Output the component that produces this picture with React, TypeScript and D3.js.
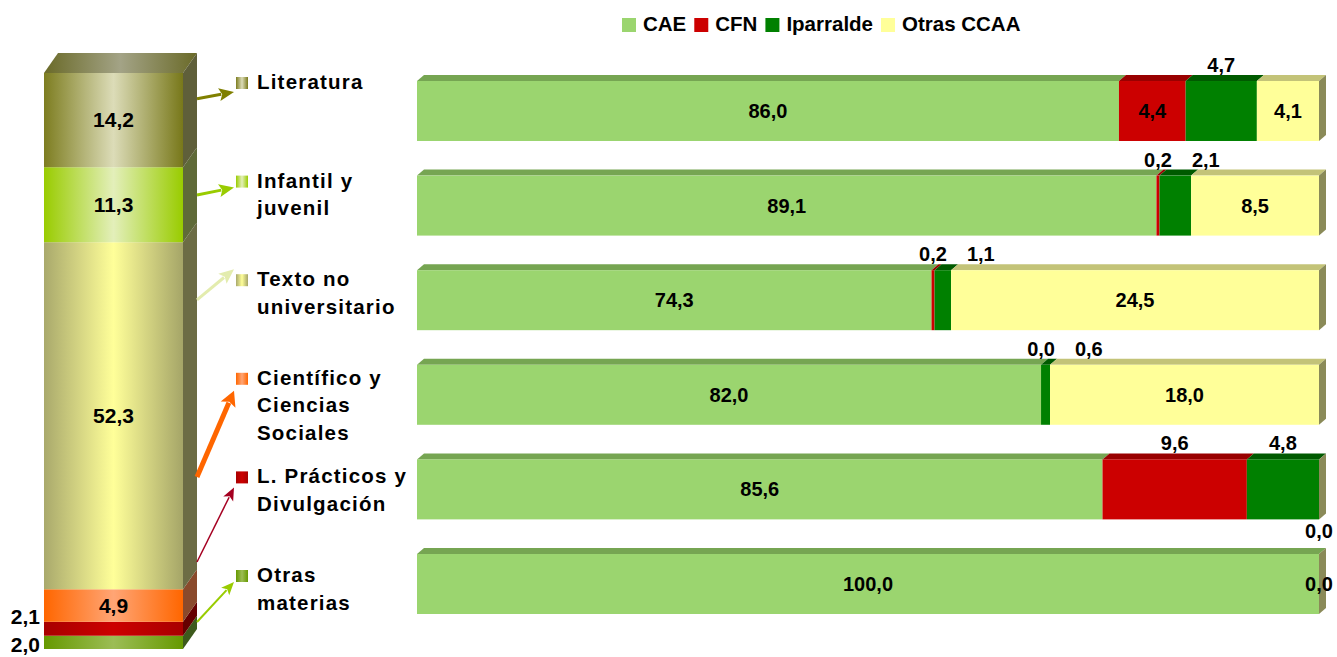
import React from "react";
import * as d3 from "d3";

// ---------- DATA ----------
const seriesNames = ["CAE", "CFN", "Iparralde", "Otras CCAA"];
const categories = [
  "Literatura",
  "Infantil y juvenil",
  "Texto no universitario",
  "Científico y Ciencias Sociales",
  "L. Prácticos y Divulgación",
  "Otras materias",
];
const categoryLines = [
  ["Literatura"],
  ["Infantil y", "juvenil"],
  ["Texto no", "universitario"],
  ["Científico y", "Ciencias", "Sociales"],
  ["L. Prácticos y", "Divulgación"],
  ["Otras", "materias"],
];
// share of each subject (left column)
const shareValues = [14.2, 11.3, 52.3, 4.9, 2.1, 2.0];
// origin distribution per subject (right bars)
const caeValues = [86.0, 89.1, 74.3, 82.0, 85.6, 100.0];
const cfnValues = [4.4, 0.2, 0.2, 0.0, 9.6, 0.0];
const iparraldeValues = [4.7, 2.1, 1.1, 0.6, 4.8, 0.0];
const otrasValues = [4.1, 8.5, 24.5, 18.0, 0.0, 0.0];
const axisMin = 40; // horizontal axis starts at 40 %

// ---------- STYLE / LAYOUT ----------
const seriesFront = ["#9bd56f", "#cc0000", "#008000", "#ffff99"];
const seriesTop = ["#76a552", "#990000", "#005a00", "#c3c378"];
const seriesSide = ["#6f9a4c", "#880000", "#004a00", "#8a8a58"];
// label placement for each subject x series
const labelPlacement = [
  ["in", "in", "above", "in"],
  ["in", "above", "above", "in"],
  ["in", "above", "above", "in"],
  ["in", "above", "above", "in"],
  ["in", "above", "above", "below"],
  ["in", "none", "none", "end"],
];
const catGrad = [
  ["#7d7d20", "#dcdcb8", "#78781a"],
  ["#99cc00", "#e3efba", "#99cc00"],
  ["#a9a96c", "#ffff99", "#a5a568"],
  ["#ff6600", "#ffa575", "#ff6600"],
  ["#a80000", "#cc0000", "#a80000"],
  ["#669900", "#9cbd55", "#669900"],
];
const catSide = ["#5f5f3a", "#5f6a38", "#6c6c45", "#8a4a2c", "#650000", "#3d5a1c"];
const arrowColor = ["#808000", "#99cc00", "#e3ecae", "#ff6600", "#a50021", "#99cc00"];
const arrowWidth = [3, 3, 3, 5, 1.5, 2];
const arrowAnchor = [79.9, 65.4, 49.6, 22.9, 10.1, 1.05]; // column units where arrows leave
const arrowTipOffset = [3, 0, -17, 6, 4, 0];

const FONT = "'Liberation Sans', Arial, Helvetica, sans-serif";
let ctx: CanvasRenderingContext2D | null = null;
function measure(t: string, size: number) {
  if (!ctx && typeof document !== "undefined") ctx = document.createElement("canvas").getContext("2d");
  if (!ctx) return t.length * size * 0.55;
  ctx.font = `bold ${size}px ${FONT}`;
  return ctx.measureText(t).width;
}
const fmt = (v: number) => d3.format(".1f")(v).replace(".", ",");

export default function App() {
  const W = 1337, H = 657;
  const valFont = 20;

  // ---- left column ----
  const colX0 = 44, colX1 = 183, colDX = 14, colDY = 20;
  const colTotal = d3.sum(shareValues);
  const yCol = d3.scaleLinear().domain([0, colTotal]).range([649, 73]);
  const colRow: any = {};
  categories.forEach((c, i) => (colRow[c] = shareValues[i]));
  const colStack = d3.stack<any>().keys([...categories].reverse())([colRow]);
  const colSegs = colStack.map((s) => {
    const i = categories.indexOf(s.key);
    return { i, y0: yCol(s[0][1]), y1: yCol(s[0][0]), v: shareValues[i] };
  });

  // outside labels for thin segments
  const outside = colSegs.filter((s) => s.y1 - s.y0 < 22).map((s) => ({ ...s, ly: (s.y0 + s.y1) / 2 }));
  outside.sort((a, b) => a.ly - b.ly);
  for (let k = 1; k < outside.length; k++) {
    const gap = 28;
    if (outside[k].ly - outside[k - 1].ly < gap) {
      const c = (outside[k].ly + outside[k - 1].ly) / 2;
      outside[k - 1].ly = c - gap / 2;
      outside[k].ly = c + gap / 2;
    }
  }

  // ---- right bars ----
  const rows = categories.map((c, i) => ({
    cat: c,
    CAE: caeValues[i],
    CFN: cfnValues[i],
    Iparralde: iparraldeValues[i],
    "Otras CCAA": otrasValues[i],
  }));
  const stack = d3.stack<any>().keys(seriesNames).offset(d3.stackOffsetExpand)(rows);
  const x = d3.scaleLinear().domain([axisMin / 100, 1]).range([417, 1319]).clamp(true);
  const yBand = d3.scaleBand().domain(categories).range([63.7, 631.3]).paddingInner(0.366).paddingOuter(0.183);
  const bw = yBand.bandwidth();
  const bdx = 7, bdy = 6;
  const valueRaw = [caeValues, cfnValues, iparraldeValues, otrasValues];

  // legend positions (category legend)
  const legY = d3.scalePoint().domain(categories).range([89, 582]);

  const barEls: any[] = [];
  const labelEls: any[] = [];
  categories.forEach((c, i) => {
    const top = yBand(c)!;
    const bot = top + bw;
    const aboveLabels: any[] = [];
    stack.forEach((s, si) => {
      const d = s[i];
      const x0 = x(d[0]), x1 = x(d[1]);
      if (x1 - x0 > 0.01) {
        barEls.push(
          <g key={`b${i}-${si}`}>
            <polygon
              points={`${x0},${top} ${x0 + bdx},${top - bdy} ${x1 + bdx},${top - bdy} ${x1},${top}`}
              fill={seriesTop[si]}
            />
            <rect x={x0} y={top} width={x1 - x0} height={bw} fill={seriesFront[si]} />
          </g>
        );
      }
      const pl = labelPlacement[i][si];
      const txt = fmt(valueRaw[si][i]);
      if (pl === "in") labelEls.push({ x: (x0 + x1) / 2, y: top + bw / 2 + 7, t: txt });
      else if (pl === "above") aboveLabels.push({ x: (x0 + x1) / 2, y: top - 9, t: txt, w: measure(txt, valFont) });
      else if (pl === "below") labelEls.push({ x: x1, y: bot + 19, t: txt });
      else if (pl === "end") labelEls.push({ x: x1, y: top + bw / 2 + 7, t: txt });
    });
    for (let k = 1; k < aboveLabels.length; k++) {
      const p = aboveLabels[k - 1], q = aboveLabels[k];
      const minX = p.x + p.w / 2 + 20 + q.w / 2;
      if (q.x < minX) q.x = minX;
    }
    labelEls.push(...aboveLabels);
    // right side face (last series)
    const xe = x(stack[stack.length - 1][i][1]);
    barEls.push(
      <polygon
        key={`side${i}`}
        points={`${xe},${top} ${xe + bdx},${top - bdy} ${xe + bdx},${bot - bdy} ${xe},${bot}`}
        fill={seriesSide[seriesSide.length - 1]}
      />
    );
  });

  // top legend layout
  const legFont = 20.5;
  let lx = 622;
  const legendItems = seriesNames.map((n, i) => {
    const item = { n, x: lx, c: seriesFront[i] };
    lx += 14 + 7 + measure(n, legFont) + 8;
    return item;
  });

  const arrow = (i: number) => {
    const sx = colX1 + colDX, sy = yCol(arrowAnchor[i]) - colDY;
    const tx = 234, ty = (legY(categories[i]) as number) + arrowTipOffset[i];
    const dx = tx - sx, dy = ty - sy, L = Math.hypot(dx, dy);
    const ux = dx / L, uy = dy / L;
    const hl = arrowWidth[i] >= 3 ? 15 : 13;
    const hw = arrowWidth[i] >= 5 ? 8 : arrowWidth[i] >= 3 ? 6.5 : 5.5;
    const bx = tx - ux * hl, by = ty - uy * hl;
    return (
      <g key={`ar${i}`}>
        <line x1={sx} y1={sy} x2={bx + ux * 2} y2={by + uy * 2} stroke={arrowColor[i]} strokeWidth={arrowWidth[i]} />
        <polygon
          points={`${tx},${ty} ${bx - uy * hw},${by + ux * hw} ${bx + ux * 3},${by + uy * 3} ${bx + uy * hw},${by - ux * hw}`}
          fill={arrowColor[i]}
        />
      </g>
    );
  };

  return (
    <svg
      width={W}
      height={H}
      style={{ position: "absolute", left: 0, top: 0, display: "block", background: "#fff" }}
      fontFamily={FONT}
      fontWeight="bold"
    >
      <defs>
        {catGrad.map((g, i) => (
          <linearGradient key={i} id={`cg${i}`} x1="0" x2="1" y1="0" y2="0">
            <stop offset="0" stopColor={g[0]} />
            <stop offset="0.5" stopColor={g[1]} />
            <stop offset="1" stopColor={g[2]} />
          </linearGradient>
        ))}
        <linearGradient id="colTop" x1="0" x2="1" y1="0" y2="0">
          <stop offset="0" stopColor="#6a6a28" />
          <stop offset="0.5" stopColor="#a3a386" />
          <stop offset="1" stopColor="#6a6a28" />
        </linearGradient>
      </defs>

      {/* top legend */}
      {legendItems.map((it) => (
        <g key={it.n}>
          <rect x={it.x} y={18} width={14} height={14} fill={it.c} />
          <text x={it.x + 21} y={31} fontSize={legFont} fill="#000">
            {it.n}
          </text>
        </g>
      ))}

      {/* left column */}
      <polygon
        points={`${colX0},${yCol(colTotal)} ${colX0 + colDX},${yCol(colTotal) - colDY} ${colX1 + colDX},${yCol(colTotal) - colDY} ${colX1},${yCol(colTotal)}`}
        fill="url(#colTop)"
      />
      {colSegs.map((s) => (
        <g key={`cs${s.i}`}>
          <polygon
            points={`${colX1},${s.y0} ${colX1 + colDX},${s.y0 - colDY} ${colX1 + colDX},${s.y1 - colDY} ${colX1},${s.y1}`}
            fill={catSide[s.i]}
          />
          <rect x={colX0} y={s.y0} width={colX1 - colX0} height={s.y1 - s.y0} fill={`url(#cg${s.i})`} />
        </g>
      ))}
      {colSegs
        .filter((s) => s.y1 - s.y0 >= 22)
        .map((s) => (
          <text key={`cl${s.i}`} x={(colX0 + colX1) / 2} y={(s.y0 + s.y1) / 2 + 7} fontSize={21} textAnchor="middle">
            {fmt(s.v)}
          </text>
        ))}
      {outside.map((s) => (
        <text key={`co${s.i}`} x={40} y={s.ly + 2} fontSize={21} textAnchor="end">
          {fmt(s.v)}
        </text>
      ))}

      {/* arrows */}
      {categories.map((_, i) => arrow(i))}

      {/* category legend */}
      {categories.map((c, i) => {
        const by = legY(c) as number;
        return (
          <g key={`lg${i}`}>
            <rect x={236} y={by - 12} width={12} height={12} fill={`url(#cg${i})`} />
            {categoryLines[i].map((ln, k) => (
              <text key={k} x={257} y={by + k * 27.5} fontSize={20.5} letterSpacing={1.2} fill="#000">
                {ln}
              </text>
            ))}
          </g>
        );
      })}

      {/* bars */}
      {barEls}
      {labelEls.map((l, k) => (
        <text key={`bl${k}`} x={l.x} y={l.y} fontSize={valFont} textAnchor="middle" fill="#000">
          {l.t}
        </text>
      ))}
    </svg>
  );
}
